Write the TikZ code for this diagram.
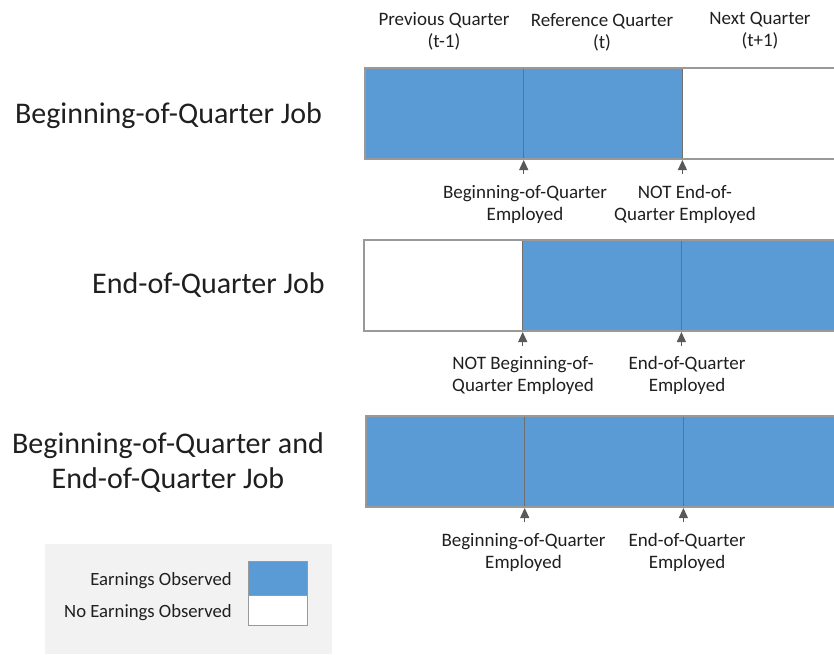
\documentclass[tikz,border=0pt]{standalone}
\usepackage{fontspec}
\setmainfont{Carlito}
\usetikzlibrary{calc,arrows.meta}
\definecolor{obsblue}{HTML}{5B9BD5}
\definecolor{edgegray}{HTML}{999999}
\definecolor{divgray}{HTML}{6F6F6F}
\definecolor{ptrgray}{HTML}{595959}
\definecolor{legendbg}{HTML}{F2F2F2}
\definecolor{ink}{HTML}{1F1F1F}

\begin{document}
\begin{tikzpicture}[x=1pt,y=-1pt,
  cell/.style={draw=divgray, line width=0.8pt, minimum width=158.7pt, minimum height=91pt,
               inner sep=0pt, outer sep=0pt, anchor=north west},
  frame/.style={draw=edgegray, line width=1.5pt},
  ptr/.style={draw=ptrgray, line width=1.1pt, shorten >=1pt, -{Triangle[length=10pt,width=9pt]}},
  small/.style={font=\fontsize{19}{22}\selectfont, text=ink, inner sep=0pt, align=center},
  legtext/.style={font=\fontsize{18.7}{22}\selectfont, text=ink, inner sep=0pt},
  big/.style={font=\fontsize{30}{35}\selectfont, text=ink, inner sep=0pt, align=center},
  swatch/.style={draw=edgegray, line width=1pt, minimum width=59pt, inner sep=0pt, outer sep=0pt, anchor=north west},
]
\clip (0,0) rectangle (834,654);

% quarter headings (base = baseline of the last line)
\node[small, anchor=base] (hprev) at (444,47) {Previous Quarter\\(t-1)};
\node[small, anchor=base] (href)  at (602,48) {Reference Quarter\\(t)};
\node[small, anchor=base] (hnext) at (760,46) {Next Quarter\\(t+1)};

% row titles
\node[big, anchor=base] (t1) at (168.5,123) {Beginning-of-Quarter Job};
\node[big, anchor=base] (t2) at (208.5,293) {End-of-Quarter Job};
\node[big, anchor=base] (t3) at (168,488) {Beginning-of-Quarter and\\End-of-Quarter Job};

% row 1: job held at the start of the quarter only
\node[cell, fill=obsblue] (b1q1) at (365,68) {};
\node[cell, fill=obsblue] (b1q2) at (b1q1.north east) {};
\node[cell, fill=white]   (b1q3) at (b1q2.north east) {};
\draw[frame] (b1q1.north west) rectangle (b1q3.south east);

% row 2: job held at the end of the quarter only
\node[cell, fill=white]   (b2q1) at (364,240) {};
\node[cell, fill=obsblue] (b2q2) at (b2q1.north east) {};
\node[cell, fill=obsblue] (b2q3) at (b2q2.north east) {};
\draw[frame] (b2q1.north west) rectangle (b2q3.south east);

% row 3: job held at both ends of the quarter
\node[cell, fill=obsblue] (b3q1) at (366,416) {};
\node[cell, fill=obsblue] (b3q2) at (b3q1.north east) {};
\node[cell, fill=obsblue] (b3q3) at (b3q2.north east) {};
\draw[frame] (b3q1.north west) rectangle (b3q3.south east);

% pointers to the quarter boundaries
\coordinate (p1a) at ($(b1q1.south east)+(0,15)$);
\coordinate (p1b) at ($(b1q2.south east)+(0,15)$);
\coordinate (p2a) at ($(b2q1.south east)+(0,15)$);
\coordinate (p2b) at ($(b2q2.south east)+(0,15)$);
\coordinate (p3a) at ($(b3q1.south east)+(0,15)$);
\coordinate (p3b) at ($(b3q2.south east)+(0,15)$);
\draw[ptr] (p1a) -- (b1q1.south east);
\draw[ptr] (p1b) -- (b1q2.south east);
\draw[ptr] (p2a) -- (b2q1.south east);
\draw[ptr] (p2b) -- (b2q2.south east);
\draw[ptr] (p3a) -- (b3q1.south east);
\draw[ptr] (p3b) -- (b3q2.south east);

% boundary captions (base = baseline of the last line)
\node[small, anchor=base] (c1a) at (525,220.5) {Beginning-of-Quarter\\Employed};
\node[small, anchor=base] (c1b) at (685,220.5) {NOT End-of-\\Quarter Employed};
\node[small, anchor=base] (c2a) at (523,391.5) {NOT Beginning-of-\\Quarter Employed};
\node[small, anchor=base] (c2b) at (687,391.5) {End-of-Quarter\\Employed};
\node[small, anchor=base] (c3a) at (523.5,568.5) {Beginning-of-Quarter\\Employed};
\node[small, anchor=base] (c3b) at (687,568.5) {End-of-Quarter\\Employed};

% legend
\node[fill=legendbg, minimum width=287pt, minimum height=110pt, inner sep=0pt, outer sep=0pt,
      anchor=north west] (legend) at (45,544) {};
\node[swatch, fill=obsblue, minimum height=34pt] (swobs) at (248,561) {};
\node[swatch, fill=white, minimum height=30pt] (swnone) at (swobs.south west) {};
\node[legtext, anchor=base east] (lobs)  at (232,585.5) {Earnings Observed};
\node[legtext, anchor=base east] (lnone) at (232,617.5) {No Earnings Observed};
\end{tikzpicture}
\end{document}
